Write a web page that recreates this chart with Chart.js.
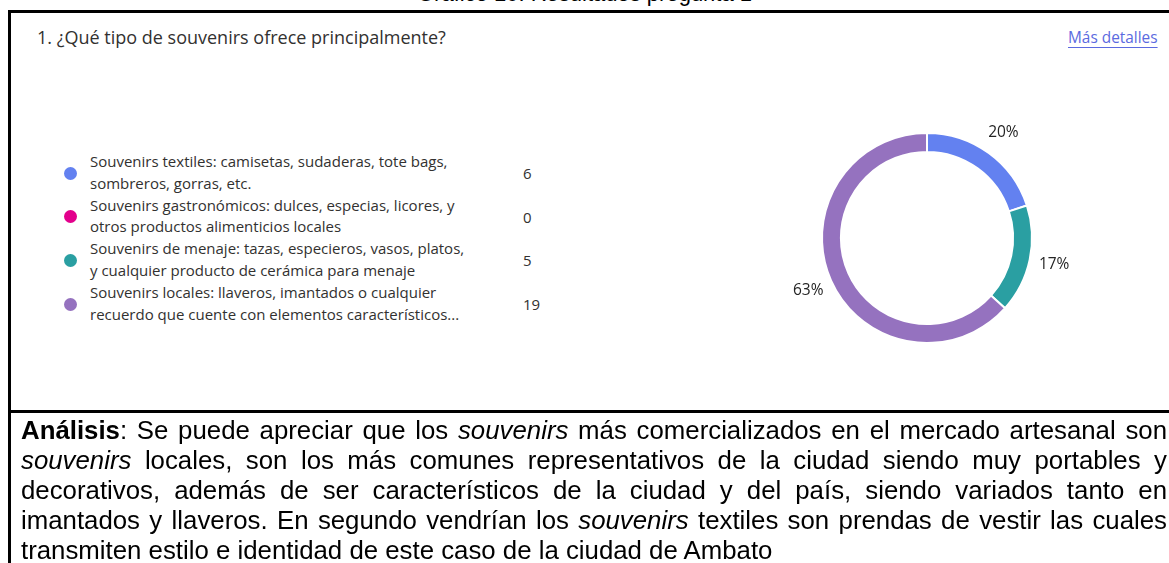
<!DOCTYPE html>
<html lang="es">
<head>
<meta charset="utf-8">
<script src="https://cdn.jsdelivr.net/npm/chart.js@4.4.1/dist/chart.umd.min.js"></script>
<style>
    html, body { margin: 0; padding: 0; background: #fff; }
    body { width: 1169px; height: 563px; position: relative; overflow: hidden; }
    .line { position: absolute; background: #000; }
    #caption { position: absolute; left: 0; width: 1169px; top: -17px; text-align: center;
        font: 22px/22px "Liberation Sans", Arial, sans-serif; color: #000; }
    #question { position: absolute; left: 37px; top: 25px; font: 18px "Open Sans", sans-serif; color: #323130; }
    #more { position: absolute; left: 1068px; top: 27px; font: 15.4px "Open Sans", sans-serif; color: #5b6ae0;
        text-decoration: underline; text-underline-offset: 4px; }
    #legend { position: absolute; left: 0; top: 0; font: 15px "Open Sans", sans-serif; color: #323130; }
    .item { position: absolute; left: 0; width: 560px; height: 44px; }
    .dot { position: absolute; left: 64px; width: 13px; height: 13px; border-radius: 50%; }
    .lbl { position: absolute; left: 90px; line-height: 21.5px; white-space: nowrap; }
    .val { position: absolute; left: 523px; }
    #wrap { position: absolute; left: 747px; top: 58px; width: 360px; height: 360px; }
    #analysis { position: absolute; left: 21px; top: 415px; width: 1146px;
        font: 25.8px/30px "Liberation Sans", Arial, sans-serif; color: #000; }
    #analysis div { text-align: justify; text-align-last: justify; white-space: nowrap; }
    #analysis div.last { text-align-last: left; }
</style>
</head>
<body>
<div id="caption">Gráfico 10: Resultados pregunta 1</div>
<div class="line" style="left:8px; top:10px; width:1161px; height:3px;"></div>
<div class="line" style="left:8px; top:10px; width:3px; height:553px;"></div>
<div class="line" style="left:8px; top:410px; width:1161px; height:3px;"></div>

<div id="question">1. ¿Qué tipo de souvenirs ofrece principalmente?</div>
<div id="more">Más detalles</div>
<div id="legend"></div>

<div id="wrap"><canvas id="donut_chart"></canvas></div>

<div id="analysis">
    <div><b>Análisis</b>: Se puede apreciar que los <i>souvenirs</i> más comercializados en el mercado artesanal son</div>
    <div><i>souvenirs</i> locales, son los más comunes representativos de la ciudad siendo muy portables y</div>
    <div>decorativos, además de ser característicos de la ciudad y del país, siendo variados tanto en</div>
    <div>imantados y llaveros. En segundo vendrían los <i>souvenirs</i> textiles son prendas de vestir las cuales</div>
    <div class="last">transmiten estilo e identidad de este caso de la ciudad de Ambato</div>
</div>

<script>
var categories = [
    ["Souvenirs textiles: camisetas, sudaderas, tote bags,", "sombreros, gorras, etc."],
    ["Souvenirs gastronómicos: dulces, especias, licores, y", "otros productos alimenticios locales"],
    ["Souvenirs de menaje: tazas, especieros, vasos, platos,", "y cualquier producto de cerámica para menaje"],
    ["Souvenirs locales: llaveros, imantados o cualquier", "recuerdo que cuente con elementos característicos..."]
];
var counts = [6, 0, 5, 19];
var colors = ['#6381f0', '#e3008c', '#2a9fa2', '#9572bf'];

// legend on the left, built from the same arrays
var legend = document.getElementById('legend');
categories.forEach(function (lines, i) {
    var top = 151 + i * 43.7;
    var item = document.createElement('div');
    item.className = 'item';
    item.style.top = top + 'px';
    item.innerHTML =
        '<span class="dot" style="top:15.5px;background:' + colors[i] + '"></span>' +
        '<span class="lbl" style="top:0">' + lines.join('<br>') + '</span>' +
        '<span class="val" style="top:12px">' + counts[i] + '</span>';
    legend.appendChild(item);
});

var total = counts.reduce(function (a, b) { return a + b; }, 0);

var outsideLabels = {
    id: 'outsideLabels',
    afterDatasetsDraw: function (chart) {
        var ctx = chart.ctx;
        var meta = chart.getDatasetMeta(0);
        ctx.save();
        ctx.font = '15.5px "Open Sans", sans-serif';
        ctx.fillStyle = '#242424';
        ctx.textAlign = 'center';
        ctx.textBaseline = 'middle';
        meta.data.forEach(function (arc, i) {
            var v = counts[i];
            if (!v) return;
            var p = arc.getProps(['x', 'y', 'startAngle', 'endAngle', 'outerRadius'], true);
            var mid = (p.startAngle + p.endAngle) / 2;
            var r = p.outerRadius + 25;
            ctx.fillText(Math.round(v / total * 100) + '%', p.x + Math.cos(mid) * r, p.y + Math.sin(mid) * r);
        });
        ctx.restore();
    }
};

new Chart(document.getElementById('donut_chart').getContext('2d'), {
    type: 'doughnut',
    data: {
        labels: categories,
        datasets: [{
            data: counts,
            backgroundColor: colors,
            borderColor: '#ffffff',
            borderWidth: 2
        }]
    },
    options: {
        responsive: true,
        maintainAspectRatio: false,
        animation: false,
        cutout: '82%',
        layout: { padding: 74 },
        plugins: {
            legend: { display: false },
            tooltip: { enabled: false }
        }
    },
    plugins: [outsideLabels]
});
</script>
</body>
</html>
